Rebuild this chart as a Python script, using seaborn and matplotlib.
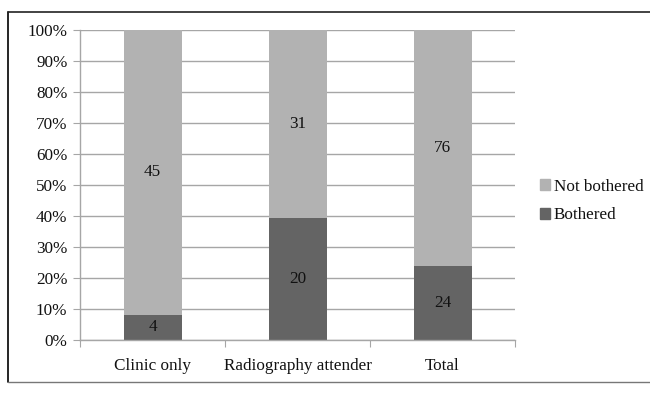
import numpy as np
import matplotlib.pyplot as plt
import seaborn as sns
import pandas as pd
from matplotlib.lines import Line2D
from matplotlib.ticker import FixedLocator

# counts
groups = ['Clinic only', 'Radiography attender', 'Total']
bothered = [4, 20, 24]
not_bothered = [45, 31, 76]

df = pd.DataFrame({'group': groups, 'bothered': bothered, 'not_bothered': not_bothered})
df['n'] = df['bothered'] + df['not_bothered']
df['pct_both'] = df['bothered'] / df['n'] * 100
df['pct_all'] = 100.0

sns.set_style('white')
plt.rcParams['font.family'] = ['Liberation Serif', 'DejaVu Serif']
fs = 12.3
plt.rcParams['font.size'] = fs
plt.rcParams['text.color'] = '#111111'
plt.rcParams['xtick.color'] = '#111111'
plt.rcParams['ytick.color'] = '#111111'

light = '#b2b2b2'
dark = '#646464'

fig = plt.figure(figsize=(6.5, 3.93), dpi=100)
ax = fig.add_axes([80/650, 1-340/393, 435/650, 310/393])

# stacked 100% bars: full light bar, dark part on top of it
sns.barplot(data=df, x='group', y='pct_all', color=light, width=0.4, ax=ax,
            saturation=1, linewidth=0)
sns.barplot(data=df, x='group', y='pct_both', color=dark, width=0.4, ax=ax,
            saturation=1, linewidth=0)

for i, row in df.iterrows():
    ax.text(i, row['pct_both'] / 2, str(row['bothered']), ha='center', va='center', fontsize=fs)
    ax.text(i, (100 + row['pct_both']) / 2, str(row['not_bothered']), ha='center', va='center', fontsize=fs)

ax.set_xlim(-0.5, 2.5)
ax.set_ylim(0, 100)
ax.set_yticks(np.arange(0, 101, 10))
ax.set_yticklabels([f'{v}%' for v in range(0, 101, 10)])
ax.yaxis.grid(True, color='#a6a6a6', linewidth=1)
ax.set_axisbelow(True)
ax.set_xlabel('')
ax.set_ylabel('')

# category boundary ticks on x, labels in between
ax.xaxis.set_major_locator(FixedLocator([-0.5, 0.5, 1.5, 2.5]))
ax.xaxis.set_minor_locator(FixedLocator([0, 1, 2]))
ax.set_xticklabels(['', '', '', ''])
ax.set_xticklabels(groups, minor=True)
ax.tick_params(axis='x', which='major', direction='out', length=5, color='#a6a6a6', bottom=True)
ax.tick_params(axis='x', which='minor', length=0, pad=13, labelsize=fs)
ax.tick_params(axis='y', direction='out', length=5, color='#a6a6a6', left=True, labelsize=fs, pad=4)

for s in ['top', 'right']:
    ax.spines[s].set_visible(False)
for s in ['left', 'bottom']:
    ax.spines[s].set_color('#a6a6a6')
    ax.spines[s].set_linewidth(1)

handles = [plt.Rectangle((0, 0), 1, 1, color=light), plt.Rectangle((0, 0), 1, 1, color=dark)]
fig.legend(handles, ['Not bothered', 'Bothered'], loc='center left',
           bbox_to_anchor=(525/650, 1-201/393), frameon=False, handlelength=0.55,
           handleheight=0.55, handletextpad=0.25, labelspacing=0.75, fontsize=fs)

# outer frame of the original image
fig.add_artist(Line2D([8/650, 8/650], [1-12/393, 1-382/393], color='black', lw=1.2, transform=fig.transFigure))
fig.add_artist(Line2D([8/650, 1], [1-12/393, 1-12/393], color='#222222', lw=1.2, transform=fig.transFigure))
fig.add_artist(Line2D([8/650, 1], [1-382/393, 1-382/393], color='#777777', lw=1.0, transform=fig.transFigure))

fig.savefig('out.png', dpi=100)
